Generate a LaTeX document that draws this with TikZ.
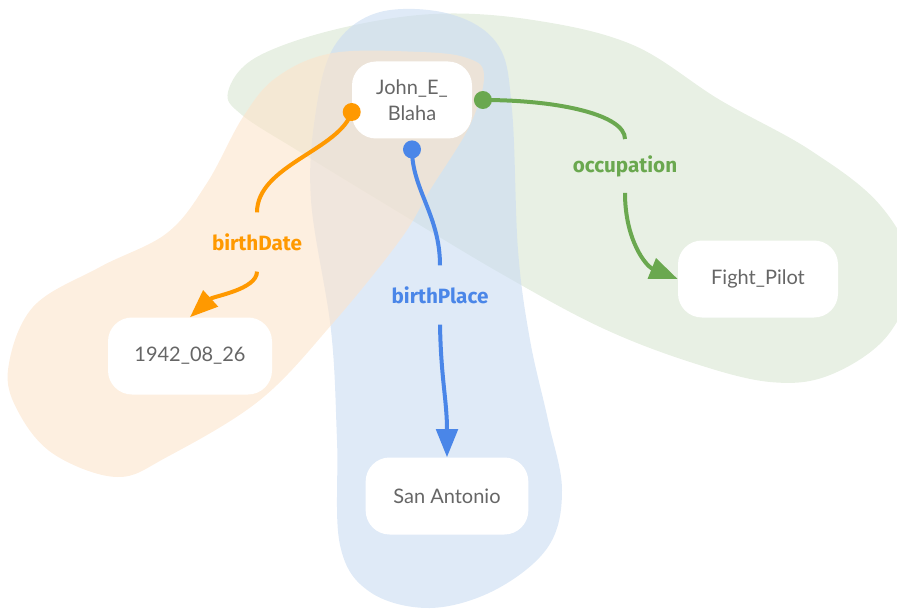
\documentclass[tikz,border=0pt]{standalone}
\usepackage{fontspec}
\setmainfont{Lato}
\newfontfamily\relfont{Fira Sans}
\usepackage{xcolor}
\usetikzlibrary{arrows.meta, positioning}
\definecolor{gorange}{HTML}{FF9900}
\definecolor{gblue}{HTML}{4A86E8}
\definecolor{ggreen}{HTML}{6AA84F}
\definecolor{horange}{RGB}{252,228,203}
\definecolor{hblue}{RGB}{202,220,242}
\definecolor{hgreen}{RGB}{217,230,210}
\definecolor{textgray}{HTML}{666666}
\tikzstyle{entity}   = [rectangle, fill=white, rounded corners=18pt, minimum height=57.75pt, align=center, text=textgray, font=\fontsize{15}{19.5}\selectfont]
\tikzstyle{relation} = [font=\relfont\bfseries\fontsize{15.5}{18}\selectfont, minimum height=44pt, inner sep=0pt]
\tikzstyle{dot}      = [circle, inner sep=0pt, minimum size=13.5pt]
\tikzstyle{arrow}    = [-{Triangle[length=21pt,width=16pt]}, line width=3pt]
\tikzstyle{blob}     = [fill opacity=0.6]

\begin{document}
\begin{tikzpicture}[x=0.75pt, y=-0.75pt]
    \useasboundingbox (0,0) rectangle (897,610);

    % hulls
    \fill [hgreen, blob] plot[smooth cycle, tension=0.6] coordinates {(228,92) (255,58) (333,30) (433,14) (533,20) (633,45) (720,100) (810,150) (880,205) (912,270) (888,335) (830,375) (770,382) (690,362) (600,327) (500,273) (400,213) (300,152) (242,115)};
    \fill [hblue, blob] plot[smooth cycle, tension=0.6] coordinates {(380,12) (450,14) (498,45) (512,110) (518,250) (530,340) (548,420) (562,490) (548,547) (495,590) (430,608) (370,592) (340,545) (337,440) (331,330) (311,200) (316,110) (335,45)};
    \fill [horange, blob] plot[smooth cycle, tension=0.6] coordinates {(243,117) (277,77) (333,53) (420,52) (467,58) (484,75) (470,125) (430,190) (400,240) (333,323) (260,400) (167,457) (117,477) (55,455) (20,415) (8,370) (33,307) (100,267) (167,233) (207,183)};

    \node (john) [entity, minimum width=90pt] at (412,100) {John\_E\_\\Blaha};
    \node (date) [entity, minimum width=123pt] at (190,356) {1942\_08\_26};
    \node (place) [entity, minimum width=122pt] at (447,496) {San Antonio};
    \node (pilot) [entity, minimum width=120pt] at (758,279) {Fight\_Pilot};

    \node (ddate) [dot, fill=gorange] at ([yshift=-9pt]john.west) {};
    \node (dplace) [dot, fill=gblue] at ([yshift=-8pt]john.south) {};
    \node (doccu) [dot, fill=ggreen] at ([xshift=8pt]john.east) {};

    \node (lbldate) [relation, text=gorange] at (257,242) {birthDate};
    \node (lblplace) [relation, text=gblue] at (440,295) {birthPlace};
    \node (lbloccu) [relation, text=ggreen, minimum height=40pt] at (625,166) {occupation};

    \draw [gorange, line width=3pt] (ddate.center) .. controls +(-12,38) and +(0,-47) .. (lbldate.north);
    \draw [arrow, gorange] (lbldate.south) .. controls +(0,18) and +(23,-21) .. (date.north);

    \draw [gblue, line width=3pt] (dplace.center) .. controls +(0,40) and +(0,-50) .. (lblplace.north);
    \draw [arrow, gblue] (lblplace.south) .. controls +(1,55) and +(0,-57) .. (place.north);

    \draw [ggreen, line width=3pt] (doccu.center) .. controls +(77,0) and +(0,-24) .. (lbloccu.north);
    \draw [arrow, ggreen] (lbloccu.south) .. controls +(0,47) and +(-32,-13) .. (pilot.west);
\end{tikzpicture}
\end{document}
